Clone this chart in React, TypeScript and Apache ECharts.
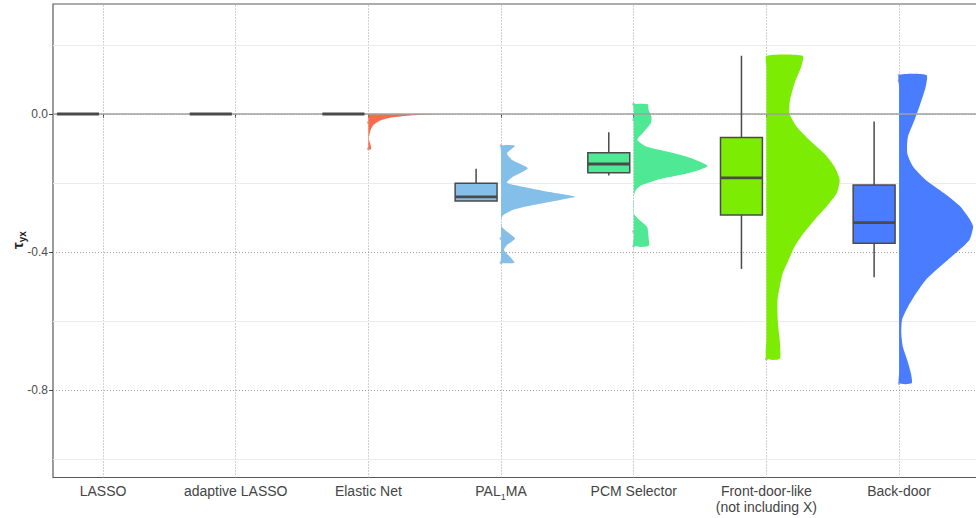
import React, { useEffect, useRef } from "react";
import * as echarts from "echarts";

const categories = [
  "LASSO",
  "adaptive LASSO",
  "Elastic Net",
  "PAL1MA",
  "PCM Selector",
  "Front-door-like\n(not including X)",
  "Back-door",
];
const catPositions = [1, 2, 3, 4, 5, 6, 7];
const yTickValues = [-0.8, -0.4, 0];
const yMinorGrid = [0.2, -0.2, -0.6, -1.0];
const yTitle = "{t|τ}{s|yx}";

const fillColors = ["#9a9a9a", "#9a9a9a", "#FA6B4C", "#84BFEA", "#4FE895", "#7CEC03", "#4A7CFF"];

// box statistics
const whiskerLow = [0, 0, 0, -0.252, -0.178, -0.449, -0.473];
const q1 = [0, 0, 0, -0.252, -0.17, -0.293, -0.375];
const median = [0, 0, 0, -0.24, -0.145, -0.185, -0.315];
const q3 = [0, 0, 0, -0.201, -0.112, -0.068, -0.206];
const whiskerHigh = [0, 0, 0, -0.159, -0.053, 0.169, -0.022];

// outliers: [category position, value]
const outliers = [
  [3, -0.025], [3, -0.101],
  [4, -0.092], [4, -0.361], [4, -0.431],
  [5, 0.028], [5, -0.017], [5, -0.341], [5, -0.383],
  [6, -0.71],
  [7, 0.113], [7, 0.096], [7, -0.781],
];

// half-violin densities: [value, relative width]
const densityElasticNet = [
  [0.0, 0.99], [-0.002, 0.74], [-0.005, 0.52], [-0.011, 0.29], [-0.019, 0.16],
  [-0.032, 0.068], [-0.046, 0.031], [-0.061, 0.014], [-0.071, 0.005], [-0.085, 0.023],
  [-0.095, 0.036], [-0.102, 0.036],
];
const densityPAL = [
  [-0.092, 0.19], [-0.114, 0.08], [-0.133, 0.15], [-0.157, 0.36], [-0.182, 0.16],
  [-0.199, 0.08], [-0.215, 0.39], [-0.23, 0.76], [-0.24, 1.0], [-0.249, 0.8],
  [-0.264, 0.43], [-0.278, 0.16], [-0.293, 0.03], [-0.307, 0.0], [-0.327, 0.01],
  [-0.341, 0.08], [-0.361, 0.19], [-0.38, 0.08], [-0.394, 0.04], [-0.414, 0.12],
  [-0.431, 0.18],
];
const densityPCM = [
  [0.028, 0.19], [0.012, 0.2], [-0.008, 0.24], [-0.027, 0.23], [-0.056, 0.12],
  [-0.075, 0.05], [-0.095, 0.18], [-0.109, 0.45], [-0.124, 0.72], [-0.138, 0.89],
  [-0.151, 1.0], [-0.162, 0.89], [-0.177, 0.62], [-0.191, 0.31], [-0.206, 0.11],
  [-0.22, 0.03], [-0.24, 0.0], [-0.288, 0.0], [-0.302, 0.05], [-0.327, 0.18],
  [-0.356, 0.2], [-0.383, 0.2],
];
const densityFrontDoor = [
  [0.169, 0.49], [0.137, 0.47], [0.089, 0.38], [0.041, 0.32], [0.002, 0.31],
  [-0.037, 0.41], [-0.075, 0.58], [-0.114, 0.78], [-0.153, 0.92], [-0.191, 0.99],
  [-0.23, 0.95], [-0.269, 0.81], [-0.307, 0.65], [-0.346, 0.5], [-0.385, 0.38],
  [-0.423, 0.3], [-0.462, 0.22], [-0.501, 0.18], [-0.539, 0.15], [-0.578, 0.15],
  [-0.617, 0.16], [-0.655, 0.18], [-0.71, 0.18],
];
const densityBackDoor = [
  [0.113, 0.37], [0.079, 0.36], [0.031, 0.29], [-0.017, 0.21], [-0.066, 0.12],
  [-0.114, 0.11], [-0.153, 0.19], [-0.191, 0.36], [-0.23, 0.61], [-0.269, 0.83],
  [-0.307, 0.96], [-0.327, 1.0], [-0.365, 0.95], [-0.404, 0.76], [-0.443, 0.55],
  [-0.481, 0.36], [-0.52, 0.23], [-0.559, 0.12], [-0.597, 0.04], [-0.636, 0.03],
  [-0.674, 0.05], [-0.713, 0.11], [-0.752, 0.16], [-0.781, 0.17],
];
const violins = [
  { cat: 3, density: densityElasticNet },
  { cat: 4, density: densityPAL },
  { cat: 5, density: densityPCM },
  { cat: 6, density: densityFrontDoor },
  { cat: 7, density: densityBackDoor },
];

const X_MIN = 0.623;
const X_MAX = 7.708;
const Y_MIN = -1.054;
const Y_MAX = 0.319;
const VIOLIN_W = 0.558;
const BOX_OFF = 0.188;
const BOX_HW = 0.158;
const FONT = "'Liberation Sans', Arial, sans-serif";

export default function App() {
  const ref = useRef<HTMLDivElement>(null);
  useEffect(() => {
    if (!ref.current) return;
    const chart = echarts.init(ref.current, undefined, { renderer: "svg" });

    const boxData = catPositions.map((c, i) => [c, whiskerLow[i], q1[i], median[i], q3[i], whiskerHigh[i], i]);
    const violinData = violins.map((v, i) => [v.cat, i]);

    const dotted = { color: "#a0a0a0", width: 1, type: [1, 2] as any };

    const option: any = {
      animation: false,
      textStyle: { fontFamily: FONT },
      graphic: [
        {
          type: "text",
          x: 17,
          y: 240,
          rotation: Math.PI / 2,
          silent: true,
          style: {
            text: yTitle,
            align: "center",
            verticalAlign: "middle",
            rich: {
              t: { fontSize: 15, fill: "#222", fontFamily: FONT, fontWeight: "bold" },
              s: { fontSize: 10, fill: "#222", fontFamily: FONT, fontWeight: "bold", verticalAlign: "bottom", padding: [0, 0, -3, 0] },
            },
          },
        },
      ],
      grid: {
        left: 53,
        top: 4,
        width: 940,
        height: 473.5,
        show: true,
        borderColor: "#5a5a5a",
        borderWidth: 1.2,
        backgroundColor: "#ffffff",
        containLabel: false,
        outerBoundsMode: "none",
      },
      xAxis: {
        type: "value",
        min: X_MIN,
        max: X_MAX,
        axisLine: { show: false },
        splitLine: { show: false },
        axisTick: { show: true, customValues: catPositions, length: 4, lineStyle: { color: "#444", width: 1 } },
        axisLabel: {
          customValues: catPositions,
          margin: 5,
          color: "#444",
          fontSize: 14,
          lineHeight: 16,
          fontFamily: FONT,
          formatter: (v: number) => {
            const i = Math.round(v) - 1;
            if (i === 3) return "{n|PAL}{s|1}{n|MA}";
            return categories[i] ?? "";
          },
          rich: {
            n: { fontSize: 14, color: "#444", fontFamily: FONT },
            s: { fontSize: 9, color: "#444", fontFamily: FONT, verticalAlign: "bottom", padding: [0, 0, -3, 0] },
          },
        },
      },
      yAxis: {
        type: "value",
        min: Y_MIN,
        max: Y_MAX,
        axisLine: { show: false },
        splitLine: { show: false },
        axisTick: { show: true, customValues: yTickValues, length: 4, lineStyle: { color: "#444", width: 1 } },
        axisLabel: {
          customValues: yTickValues,
          margin: 5,
          color: "#4d4d4d",
          fontSize: 12,
          formatter: (v: number) => (Math.abs(v) < 1e-9 ? "0.0" : v.toFixed(1)),
        },
      },
      series: [
        {
          type: "scatter",
          z: 1,
          data: outliers,
          symbolSize: 3,
          itemStyle: { color: "#b0b0b0" },
          silent: true,
          markLine: {
            z: 1,
            silent: true,
            symbol: "none",
            label: { show: false },
            animation: false,
            data: [
              ...catPositions.map((c) => ({ xAxis: c, lineStyle: dotted })),
              ...yTickValues.map((v) => ({ yAxis: v, lineStyle: dotted })),
              ...yMinorGrid.map((v) => ({ yAxis: v, lineStyle: { color: "#ebebeb", width: 1, type: "solid" } })),
            ],
          },
        },
        {
          type: "custom",
          z: 2,
          data: violinData,
          silent: true,
          renderItem: (params: any, api: any) => {
            const c = api.value(0);
            const vi = api.value(1);
            const dens = violins[vi].density;
            const pts: number[][] = [];
            dens.forEach((d) => pts.push(api.coord([c + d[1] * VIOLIN_W, d[0]])));
            for (let k = dens.length - 1; k >= 0; k--) pts.push(api.coord([c, dens[k][0]]));
            return {
              type: "polygon",
              shape: { points: pts, smooth: 0.2 },
              style: { fill: fillColors[violins[vi].cat - 1], stroke: null },
            };
          },
        },
        {
          type: "line",
          z: 3,
          data: [],
          silent: true,
          markLine: {
            z: 3,
            silent: true,
            symbol: "none",
            label: { show: false },
            data: [{ yAxis: 0 }],
            lineStyle: { color: "#a0a0a0", width: 1.6, type: "solid" },
          },
        },
        {
          type: "custom",
          z: 4,
          data: boxData,
          silent: true,
          renderItem: (params: any, api: any) => {
            const c = api.value(0) - BOX_OFF;
            const wl = api.value(1), a = api.value(2), m = api.value(3), b = api.value(4), wh = api.value(5);
            const idx = api.value(6);
            const pTop = api.coord([c, wh]);
            const pQ3 = api.coord([c, b]);
            const pQ1 = api.coord([c, a]);
            const pBot = api.coord([c, wl]);
            const l = api.coord([c - BOX_HW, b])[0];
            const r = api.coord([c + BOX_HW, b])[0];
            const pm = api.coord([c, m]);
            const stroke = "#4a4a4a";
            return {
              type: "group",
              children: [
                { type: "line", shape: { x1: pTop[0], y1: pTop[1], x2: pQ3[0], y2: pQ3[1] }, style: { stroke, lineWidth: 1.5 } },
                { type: "line", shape: { x1: pQ1[0], y1: pQ1[1], x2: pBot[0], y2: pBot[1] }, style: { stroke, lineWidth: 1.5 } },
                {
                  type: "rect",
                  shape: { x: l, y: pQ3[1], width: r - l, height: pQ1[1] - pQ3[1] },
                  style: { fill: fillColors[idx], stroke, lineWidth: 1.5 },
                },
                { type: "line", shape: { x1: l, y1: pm[1], x2: r, y2: pm[1] }, style: { stroke, lineWidth: 2.8 } },
              ],
            };
          },
        },
      ],
    };
    chart.setOption(option);
    return () => chart.dispose();
  }, []);
  return (
    <div
      ref={ref}
      style={{ position: "absolute", left: 0, top: 0, width: 976, height: 518, background: "#fff", overflow: "hidden" }}
    />
  );
}
